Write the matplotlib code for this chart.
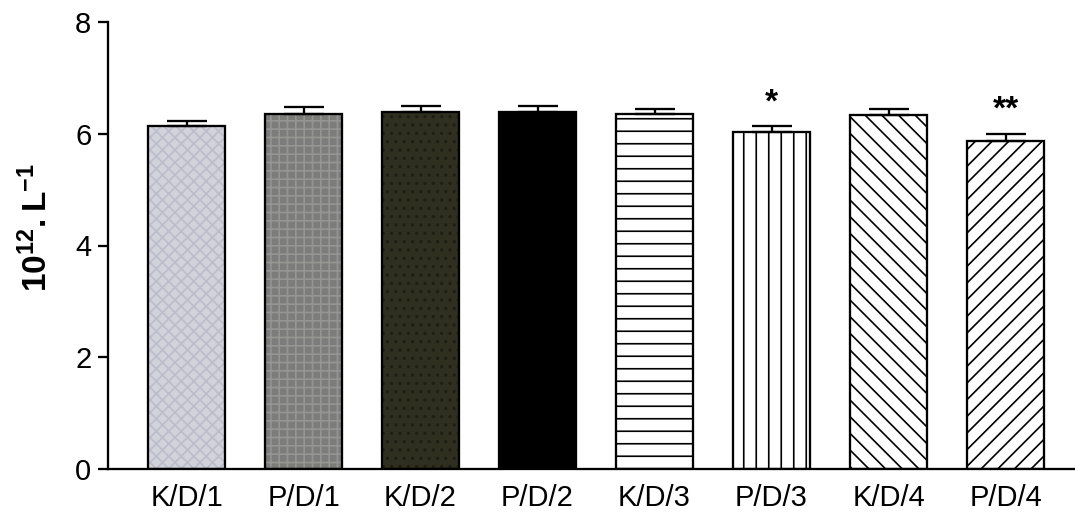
##### 그룹별 막대 그래프 (10^12/L) - 오차막대 + 유의성 표시
import numpy as np
import matplotlib
matplotlib.use("Agg")
import matplotlib.pyplot as plt

# 데이터
groups = ["K/D/1", "P/D/1", "K/D/2", "P/D/2", "K/D/3", "P/D/3", "K/D/4", "P/D/4"]
means = [6.14, 6.35, 6.39, 6.39, 6.35, 6.03, 6.33, 5.87]
errors = [0.09, 0.12, 0.11, 0.11, 0.10, 0.10, 0.11, 0.13]
signif = ["", "", "", "", "", "*", "", "**"]

# 막대 스타일 - 채움색, 무늬, 무늬색
face_colors = ["#d2d2da", "#7c7c7a", "#2e2f1f", "#000000", "white", "white", "white", "white"]
hatches = ["xxxx", "+++", "...", "", "--", "||", "\\\\\\", "///"]
hatch_colors = ["#bcbccb", "#959591", "#1e1f12", "#000000", "black", "black", "black", "black"]

plt.rcParams["font.family"] = ["Liberation Sans", "DejaVu Sans"]
plt.rcParams["mathtext.fontset"] = "custom"
plt.rcParams["mathtext.rm"] = "Liberation Sans"
plt.rcParams["mathtext.bf"] = "Liberation Sans:bold"
plt.rcParams["hatch.linewidth"] = 0.8


def drawChart():
    fig = plt.figure(figsize=(1075 / 150, 512 / 150), dpi=150)
    ax = fig.add_axes([108 / 1075, 43 / 512, 1 - 108 / 1075, 447 / 512])
    x = np.arange(len(groups))

    # 무늬 먼저, 테두리는 따로 (3.10에서는 hatch 색 = edgecolor)
    for i in range(len(groups)):
        ax.bar(x[i], means[i], width=0.66, color=face_colors[i], hatch=hatches[i],
               edgecolor=hatch_colors[i], linewidth=0, zorder=2)
    ax.bar(x, means, width=0.66, fill=False, edgecolor="black", linewidth=1.1, zorder=3)

    # 위쪽만 오차막대
    ax.errorbar(x, means, yerr=[np.zeros(len(means)), errors], fmt="none",
                ecolor="black", elinewidth=1.1, capsize=9.5, capthick=1.1, zorder=4)

    for i, s in enumerate(signif):
        if s:
            ax.text(x[i], means[i] + errors[i] + 0.15, s, ha="center", va="bottom",
                    fontsize=16, fontweight="bold")

    ax.set_xlim(-0.671, 7.594)
    ax.set_ylim(0, 8)
    ax.set_yticks([0, 2, 4, 6, 8])
    ax.set_xticks(x)
    ax.set_xticklabels(groups, fontsize=14)
    ax.tick_params(axis="y", labelsize=14, length=5, width=1.1, direction="out", pad=3)
    ax.tick_params(axis="x", length=0, pad=7)
    ax.spines["top"].set_visible(False)
    ax.spines["right"].set_visible(False)
    ax.spines["left"].set_linewidth(1.1)
    ax.spines["bottom"].set_linewidth(1.1)
    ax.set_ylabel("$\\mathbf{10^{12}.L^{-1}}$", fontsize=16)
    ax.yaxis.set_label_coords(-0.056, 0.54)

    fig.savefig("out.png", dpi=150)


if __name__ == "__main__":
    drawChart()
